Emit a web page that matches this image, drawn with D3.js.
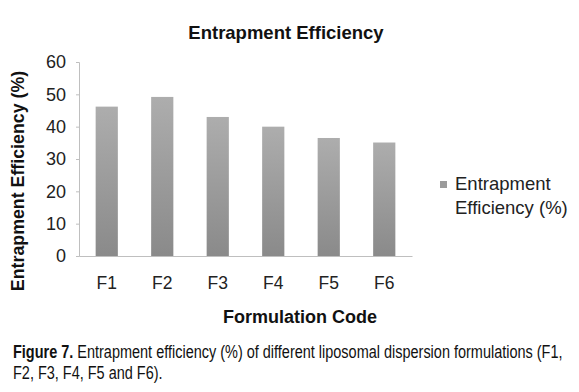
<!DOCTYPE html>
<html>
<head>
<meta charset="utf-8">
<script src="https://cdn.jsdelivr.net/npm/d3@7"></script>
<style>
  body { margin: 0; background: #fff; }
  svg { display: block; }
</style>
</head>
<body>
<div id="chart"></div>
<script>
// values
const formulations = ["F1", "F2", "F3", "F4", "F5", "F6"];
const efficiency = [46.2, 49.2, 43.0, 40.0, 36.5, 35.1];
const yTicks = [0, 10, 20, 30, 40, 50, 60];

const W = 579, H = 392;
const margin = { left: 79, top: 62, right: 167, bottom: 136 };
const width = W - margin.left - margin.right;
const height = H - margin.top - margin.bottom;
const font = "Liberation Sans, Arial, sans-serif";

const svg = d3.select("#chart").append("svg")
    .attr("width", W)
    .attr("height", H);

// bar gradient, lighter on top like the original
const grad = svg.append("defs").append("linearGradient")
    .attr("id", "barGrad")
    .attr("x1", 0).attr("y1", 0).attr("x2", 0).attr("y2", 1);
grad.append("stop").attr("offset", "0%").attr("stop-color", "#adadad");
grad.append("stop").attr("offset", "100%").attr("stop-color", "#8a8a8a");

const g = svg.append("g")
    .attr("transform", "translate(" + margin.left + "," + margin.top + ")");

const x = d3.scaleBand()
    .domain(formulations)
    .range([0, width])
    .paddingInner(0.6)
    .paddingOuter(0.3);

const y = d3.scaleLinear()
    .domain([0, 60])
    .range([height, 0]);

// y axis
const yAxis = g.append("g")
    .call(d3.axisLeft(y).tickValues(yTicks).tickSize(3).tickPadding(10));
yAxis.select(".domain").attr("stroke", "#bfbfbf");
yAxis.selectAll(".tick line").attr("stroke", "#bfbfbf");
yAxis.selectAll("text")
    .attr("font-family", font)
    .attr("font-size", "18px")
    .attr("fill", "#222");

// x axis
const xAxis = g.append("g")
    .attr("transform", "translate(0," + height + ")")
    .call(d3.axisBottom(x).tickSize(0).tickPadding(21));
xAxis.select(".domain").attr("stroke", "#bfbfbf");
xAxis.selectAll("text")
    .attr("font-family", font)
    .attr("font-size", "17.5px")
    .attr("fill", "#222");

// bars
g.selectAll("rect.bar")
    .data(formulations)
  .enter().append("rect")
    .attr("class", "bar")
    .attr("x", d => x(d))
    .attr("width", x.bandwidth())
    .attr("y", (d, i) => y(efficiency[i]))
    .attr("height", (d, i) => height - y(efficiency[i]))
    .attr("fill", "url(#barGrad)");

// chart title
svg.append("text")
    .attr("x", 286).attr("y", 39)
    .attr("text-anchor", "middle")
    .attr("font-family", font)
    .attr("font-size", "18.5px")
    .attr("font-weight", "bold")
    .attr("fill", "#111")
    .text("Entrapment Efficiency");

// y title
svg.append("text")
    .attr("transform", "translate(24,181) rotate(-90)")
    .attr("text-anchor", "middle")
    .attr("font-family", font)
    .attr("font-size", "17.8px")
    .attr("font-weight", "bold")
    .attr("fill", "#111")
    .text("Entrapment Efficiency (%)");

// x title
svg.append("text")
    .attr("x", 300).attr("y", 323)
    .attr("text-anchor", "middle")
    .attr("font-family", font)
    .attr("font-size", "18px")
    .attr("font-weight", "bold")
    .attr("fill", "#111")
    .text("Formulation Code");

// legend
const legend = svg.append("g").attr("transform", "translate(440,181)");
legend.append("rect")
    .attr("width", 7).attr("height", 7)
    .attr("fill", "#9b9b9b");
legend.append("text")
    .attr("x", 15).attr("y", 9)
    .attr("font-family", font)
    .attr("font-size", "18.5px")
    .attr("fill", "#222")
    .text("Entrapment");
legend.append("text")
    .attr("x", 15).attr("y", 33)
    .attr("font-family", font)
    .attr("font-size", "18.5px")
    .attr("fill", "#222")
    .text("Efficiency (%)");

// caption, narrow face emulated with a horizontal squeeze
const capG = svg.append("g");
const cap = capG.append("text")
    .attr("font-family", font)
    .attr("font-size", "17.5px")
    .attr("fill", "#111");
const line1 = cap.append("tspan").attr("x", 0).attr("y", 358);
line1.append("tspan").attr("font-weight", "bold").text("Figure 7.");
line1.append("tspan").text(" Entrapment efficiency (%) of different liposomal dispersion formulations (F1,");
cap.append("tspan").attr("x", 0).attr("y", 379)
    .text("F2, F3, F4, F5 and F6).");
const capW = cap.node().getBBox().width;
capG.attr("transform", "translate(13,0) scale(" + (550 / capW) + ",1)");
</script>
</body>
</html>
